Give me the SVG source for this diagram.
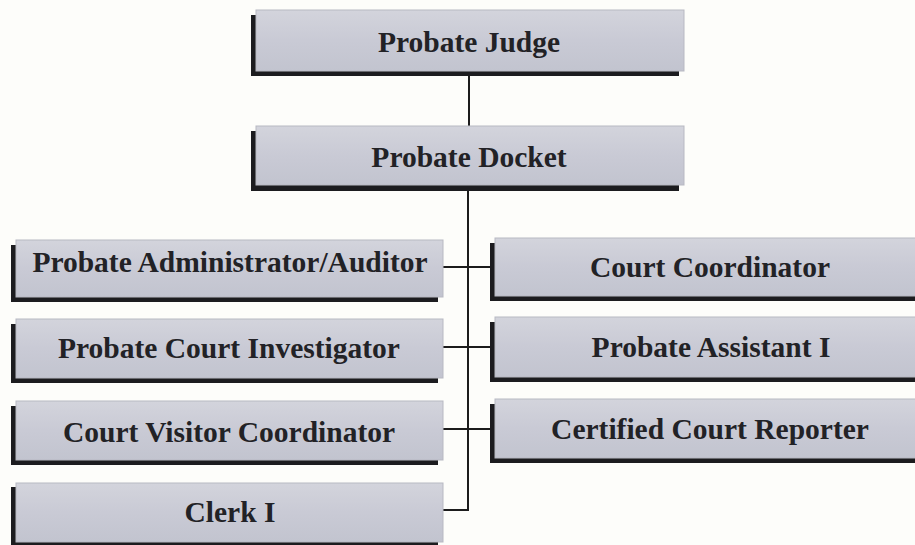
<svg xmlns="http://www.w3.org/2000/svg" width="915" height="545" viewBox="0 0 915 545">
<defs>
<linearGradient id="g" x1="0" y1="0" x2="0" y2="1">
<stop offset="0" stop-color="#d3d4dc"/>
<stop offset="0.5" stop-color="#c9cad5"/>
<stop offset="1" stop-color="#c2c4cf"/>
</linearGradient>
</defs>
<style>
.sh{fill:#1c1c1f}
.bx{fill:url(#g);stroke:#b8b9c2;stroke-width:1}
.t{font-family:"Liberation Serif","Times New Roman",serif;font-weight:bold;font-size:29.5px;fill:#222226;text-anchor:middle}
.c{stroke:#1c1c1c;stroke-width:2;fill:none}
</style>
<rect width="915" height="545" fill="#fdfdfa"/>
<g id="connectors">
<line class="c" x1="469" y1="71" x2="469" y2="126"/>
<line class="c" x1="468" y1="185" x2="468" y2="511"/>
<line class="c" x1="443" y1="267" x2="495" y2="267"/>
<line class="c" x1="443" y1="347" x2="495" y2="347"/>
<line class="c" x1="443" y1="429" x2="495" y2="429"/>
<line class="c" x1="443" y1="510" x2="469" y2="510"/>
</g>
<g id="probate-judge">
<rect class="sh" x="251" y="15" width="428" height="61"/>
<rect class="bx" x="256" y="10" width="428" height="61"/>
<text class="t" x="469" y="52">Probate Judge</text>
</g>
<g id="probate-docket">
<rect class="sh" x="251" y="131" width="428" height="60"/>
<rect class="bx" x="256" y="126" width="428" height="59"/>
<text class="t" x="469" y="167">Probate Docket</text>
</g>
<g id="probate-administrator">
<rect class="sh" x="11" y="245" width="427" height="57"/>
<rect class="bx" x="16" y="240" width="427" height="57"/>
<text class="t" x="230" y="272">Probate Administrator/Auditor</text>
</g>
<g id="probate-court-investigator">
<rect class="sh" x="11" y="324" width="427" height="59"/>
<rect class="bx" x="16" y="319" width="427" height="59"/>
<text class="t" x="229" y="358">Probate Court Investigator</text>
</g>
<g id="court-visitor-coordinator">
<rect class="sh" x="11" y="406" width="427" height="59"/>
<rect class="bx" x="16" y="401" width="427" height="59"/>
<text class="t" x="229" y="442">Court Visitor Coordinator</text>
</g>
<g id="clerk-i">
<rect class="sh" x="11" y="487" width="427" height="58"/>
<rect class="bx" x="16" y="483" width="427" height="59"/>
<text class="t" x="230" y="522">Clerk I</text>
</g>
<g id="court-coordinator">
<rect class="sh" x="490" y="243" width="430" height="58"/>
<rect class="bx" x="495" y="238" width="430" height="58"/>
<text class="t" x="710" y="277">Court Coordinator</text>
</g>
<g id="probate-assistant-i">
<rect class="sh" x="490" y="322" width="430" height="60"/>
<rect class="bx" x="495" y="317" width="430" height="60"/>
<text class="t" x="711" y="357">Probate Assistant I</text>
</g>
<g id="certified-court-reporter">
<rect class="sh" x="490" y="404" width="430" height="59"/>
<rect class="bx" x="495" y="399" width="430" height="59"/>
<text class="t" x="710" y="439">Certified Court Reporter</text>
</g>
</svg>
